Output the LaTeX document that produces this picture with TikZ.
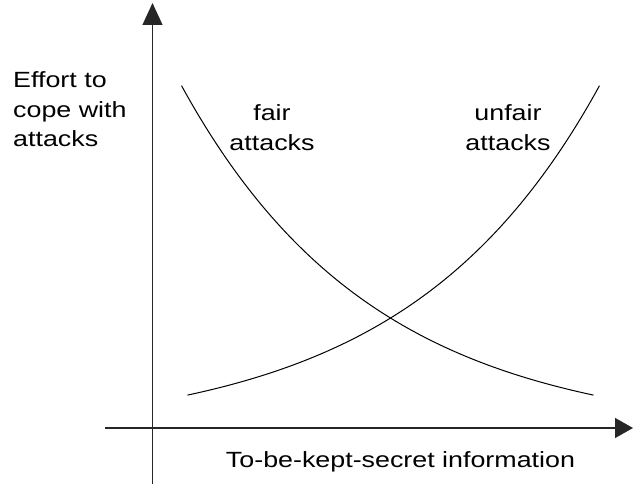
\documentclass[tikz,border=0pt]{standalone}
\usepackage{fontspec}
\setmainfont[FakeStretch=1.22]{Liberation Sans}
\usetikzlibrary{arrows.meta}
\begin{document}
\begin{tikzpicture}[x=1pt,y=-1pt,
  axis/.style={line width=1.2pt, draw=black!85},
  curve/.style={line width=1pt},
  lbl/.style={inner sep=0pt, font=\fontsize{22}{29.5}\selectfont},
  tip/.style={-{Triangle[length=#1,width=20pt]}}]
\useasboundingbox (0,0) rectangle (633,484);
% axes
\coordinate (yb) at (152.5,484);
\coordinate (yt) at (152.5,3);
\coordinate (xl) at (105,428);
\coordinate (xr) at (633,428);
\draw[axis,tip=22pt] (yb) -- (yt);
\draw[axis,tip=18pt] (xl) -- (xr);
% curves
\draw[curve] plot[domain=187.5:599.5,samples=120] (\x,{395-41.2*(exp(0.00521*(\x-188))-1)});
\draw[curve] plot[domain=181.5:593.5,samples=120] (\x,{395-41.2*(exp(0.00521*(781-\x-188))-1)});
% labels
\node[lbl,anchor=base west,align=left] (ylab) at (13,147) {Effort to\\cope with\\attacks};
\node[lbl,anchor=base,align=center] (fair) at (272,150.5) {fair\\attacks};
\node[lbl,anchor=base,align=center] (unfair) at (508,150.5) {unfair\\attacks};
\node[lbl,anchor=base] (xlab) at (400.5,467) {To-be-kept-secret information};
\end{tikzpicture}
\end{document}
